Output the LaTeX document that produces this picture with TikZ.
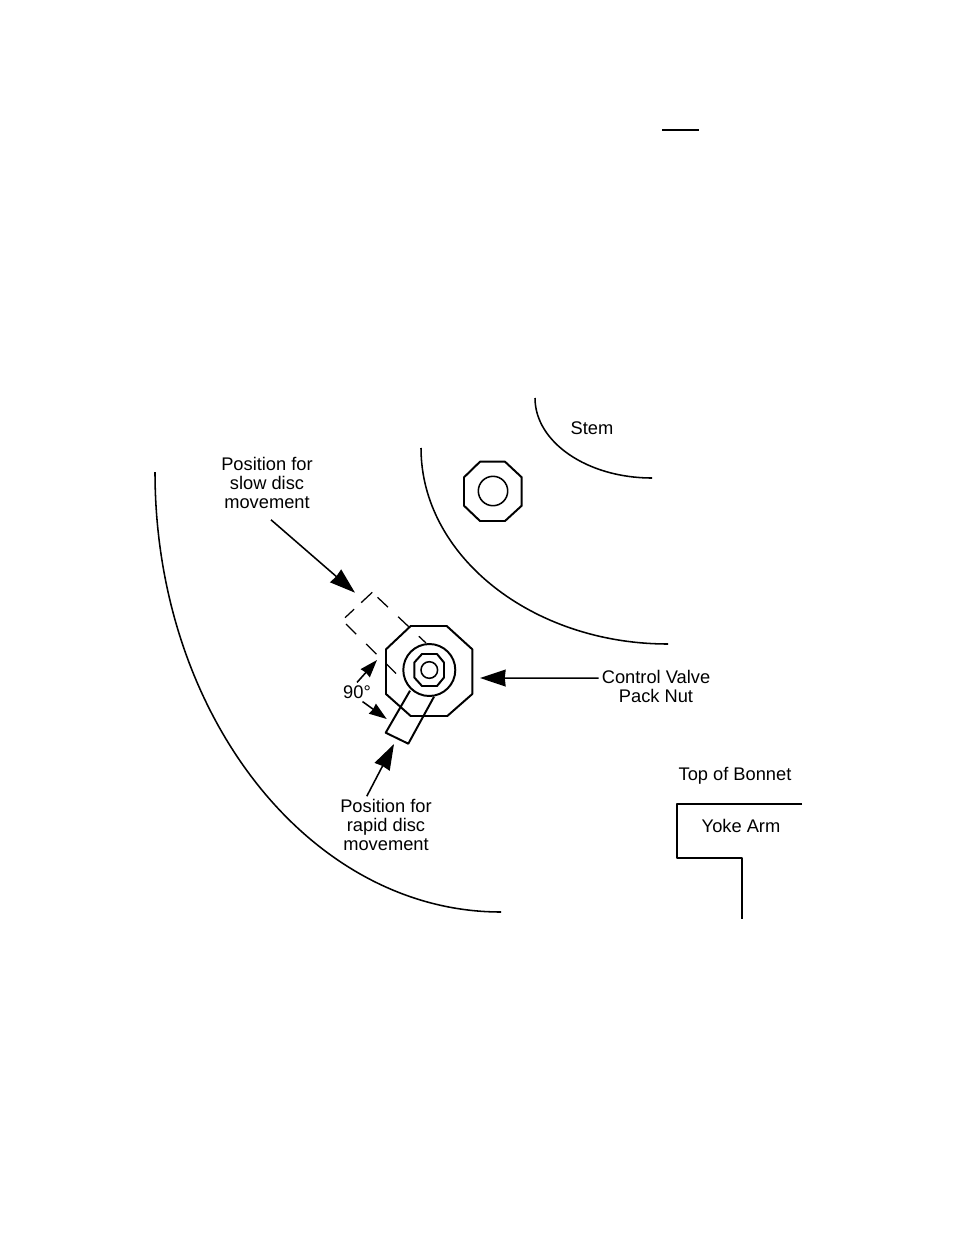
\documentclass[tikz,border=0pt]{standalone}
\usepackage{fontspec}
\setmainfont{Liberation Sans}
\usetikzlibrary{arrows.meta}
\tikzset{
  part/.style={line width=1.4pt, line join=round},
  thin part/.style={line width=1.1pt},
  ghost/.style={line width=0.9pt, dash pattern=on 0.36cm off 0.35cm},
  pointer/.style={line width=1.1pt, -{Stealth[length=0.64cm,width=0.42cm,inset=0.6pt]}},
  small pointer/.style={line width=1.1pt, -{Stealth[length=0.44cm,width=0.3cm,inset=0.6pt]}},
  caption/.style={align=center, inner sep=2pt, font=\fontsize{13}{13.5}\selectfont}
}
\begin{document}
\begin{tikzpicture}[x=0.025cm,y=-0.025cm]
      \useasboundingbox (0,0) rectangle (954,1235);
      \draw
        (592,428) node[caption] (stem){Stem}
        (267,483) node[caption] (slow){Position for\\slow disc\\movement}
        (656,686.5) node[caption] (pack){Control Valve\\Pack Nut}
        (357,692) node[caption] (ninety){90\textdegree}
        (386,825) node[caption] (rapid){Position for\\rapid disc\\movement}
        (735,775.5) node[caption] (bonnet){Top of Bonnet}
        (741,826) node[caption] (yoke){Yoke Arm};
      \draw
        (355,592.7) coordinate (slowtip)
        (394,744) coordinate (rapidtip)
        (480,678) coordinate (packtip)
        (377,660) coordinate (uptip)
        (386.7,719) coordinate (downtip);
      % top mark
      \draw[part] (662,130.3) -- (699,130.3);
      % arcs of the bonnet
      \begin{scope}[thin part]
        \draw (155,472) .. controls (155,715) and (310,912) .. (501,912);
        \draw (421,448) .. controls (421,556) and (532,644) .. (668,644);
        \draw (535,398) .. controls (535,442) and (587,478) .. (652,478);
      \end{scope}
      % stem nut
      \draw[part] (480,461.7) -- (505,461.7) -- (521.7,477.3) -- (521.7,505.7) -- (505,521)
        -- (480,521) -- (464,505.7) -- (464,477.3) -- cycle;
      \draw[thin part] (493,491) circle (14.7);
      % pack nut
      \draw[part] (410.7,626) -- (446.7,626) -- (472.3,649.3) -- (472.3,694) -- (447.3,716)
        -- (410.7,716) -- (386,694) -- (386,649.3) -- cycle;
      \draw[part] (429.3,670) circle (26);
      \draw[part] (422,654) -- (437,654) -- (444,662.5) -- (444,677.5) -- (437,686)
        -- (422,686) -- (414.3,677.5) -- (414.3,662.5) -- cycle;
      \draw[thin part] (429.3,670) circle (8.3);
      % lever, rapid position
      \draw[part] (410,690.7) -- (385.7,732.7) -- (408.3,743.7) -- (434,696.7);
      % lever, slow position
      \begin{scope}[ghost]
        \draw[dash pattern=on 0.38cm off 0.24cm] (372.3,592.3) -- (345,617.7);
        \draw (377.5,597.3) -- (426,643);
        \draw (346,624) -- (396,673.5);
      \end{scope}
      % arrows
      \begin{scope}[pointer]
        \draw ([xshift=0.1cm,yshift=-0.2cm]slow.south) -- (slowtip);
        \draw ([xshift=-0.48cm]rapid.north) -- (rapidtip);
        \draw ([yshift=0.21cm]pack.west) -- (packtip);
      \end{scope}
      \begin{scope}[small pointer]
        \draw (ninety.north) -- (uptip);
        \draw (ninety.-60) -- (downtip);
      \end{scope}
      % yoke arm
      \draw[part] (802,804) -- (677,804) -- (677,858) -- (742,858) -- (742,919);
    \end{tikzpicture}
\end{document}
